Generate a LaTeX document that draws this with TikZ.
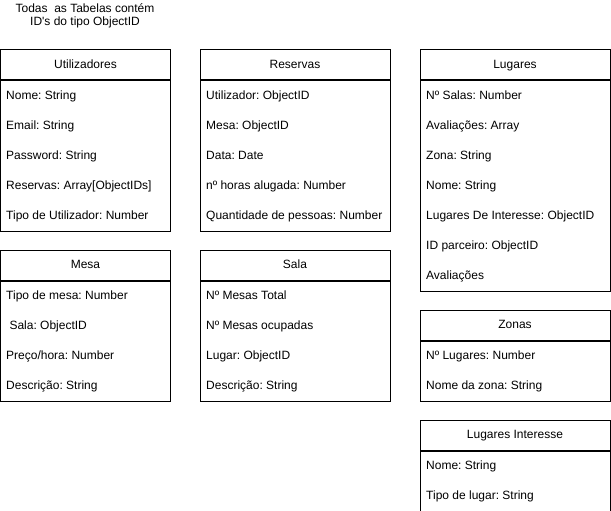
\documentclass[tikz,border=0pt]{standalone}
\usepackage{fontspec}
\setmainfont{Liberation Sans}
\begin{document}
\frenchspacing
\begin{tikzpicture}[x=1pt,y=-1pt,
  hdr/.style={draw=black, line width=1pt, minimum height=30pt, inner sep=0pt, text height=8.7pt, text depth=2.5pt, font=\fontsize{12}{14}\selectfont},
  body/.style={draw=black, line width=1pt, inner sep=0pt, anchor=north},
  row/.style={anchor=west, inner sep=0pt, text height=8.7pt, text depth=2.5pt, font=\fontsize{12}{14}\selectfont},
  ttl/.style={align=center, inner sep=0pt, font=\fontsize{12}{13.5}\selectfont}]
\useasboundingbox[fill=white] (0,0) rectangle (611,511);
\node[ttl] (title) at (85,16) {Todas\ \ as Tabelas contém\\ID\textquotesingle s do tipo ObjectID};
% Utilizadores
\node[hdr, minimum width=170pt] (ut) at (85.5,65) {Utilizadores};
\node[body, minimum width=170pt, minimum height=150pt] (utb) at (ut.south) {};
\node[row] (ut1) at (6,96) {Nome: String};
\node[row] (ut2) at (6,126) {Email: String};
\node[row] (ut3) at (6,156) {Password: String};
\node[row] (ut4) at (6,186) {Reservas: Array[ObjectIDs]};
\node[row] (ut5) at (6,216) {Tipo de Utilizador: Number};
% Reservas
\node[hdr, minimum width=190pt] (re) at (295,65) {Reservas};
\node[body, minimum width=190pt, minimum height=150pt] (reb) at (re.south) {};
\node[row] (re1) at (206,96) {Utilizador: ObjectID};
\node[row] (re2) at (206,126) {Mesa: ObjectID};
\node[row] (re3) at (206,156) {Data: Date};
\node[row] (re4) at (206,186) {nº horas alugada: Number};
\node[row] (re5) at (206,216) {Quantidade de pessoas: Number};
% Lugares
\node[hdr, minimum width=190pt] (lu) at (515,65) {Lugares};
\node[body, minimum width=190pt, minimum height=210pt] (lub) at (lu.south) {};
\node[row] (lu1) at (426,96) {Nº Salas: Number};
\node[row] (lu2) at (426,126) {Avaliações: Array};
\node[row] (lu3) at (426,156) {Zona: String};
\node[row] (lu4) at (426,186) {Nome: String};
\node[row] (lu5) at (426,216) {Lugares De Interesse: ObjectID};
\node[row] (lu6) at (426,246) {ID parceiro: ObjectID};
\node[row] (lu7) at (426,276) {Avaliações};
% Mesa
\node[hdr, minimum width=170pt] (me) at (85.5,265) {Mesa};
\node[body, minimum width=170pt, minimum height=120pt] (meb) at (me.south) {};
\node[row] (me1) at (6,296) {Tipo de mesa: Number};
\node[row] (me2) at (6,326) {\ Sala: ObjectID};
\node[row] (me3) at (6,356) {Preço/hora: Number};
\node[row] (me4) at (6,386) {Descrição: String};
% Sala
\node[hdr, minimum width=190pt] (sa) at (295,265) {Sala};
\node[body, minimum width=190pt, minimum height=120pt] (sab) at (sa.south) {};
\node[row] (sa1) at (206,296) {Nº Mesas Total};
\node[row] (sa2) at (206,326) {Nº Mesas ocupadas};
\node[row] (sa3) at (206,356) {Lugar: ObjectID};
\node[row] (sa4) at (206,386) {Descrição: String};
% Zonas
\node[hdr, minimum width=190pt] (zo) at (515,325) {Zonas};
\node[body, minimum width=190pt, minimum height=60pt] (zob) at (zo.south) {};
\node[row] (zo1) at (426,356) {Nº Lugares: Number};
\node[row] (zo2) at (426,386) {Nome da zona: String};
% Lugares Interesse
\node[hdr, minimum width=190pt] (li) at (515,435) {Lugares Interesse};
\node[body, minimum width=190pt, minimum height=60pt] (lib) at (li.south) {};
\node[row] (li1) at (426,466) {Nome: String};
\node[row] (li2) at (426,496) {Tipo de lugar: String};
\end{tikzpicture}
\end{document}
